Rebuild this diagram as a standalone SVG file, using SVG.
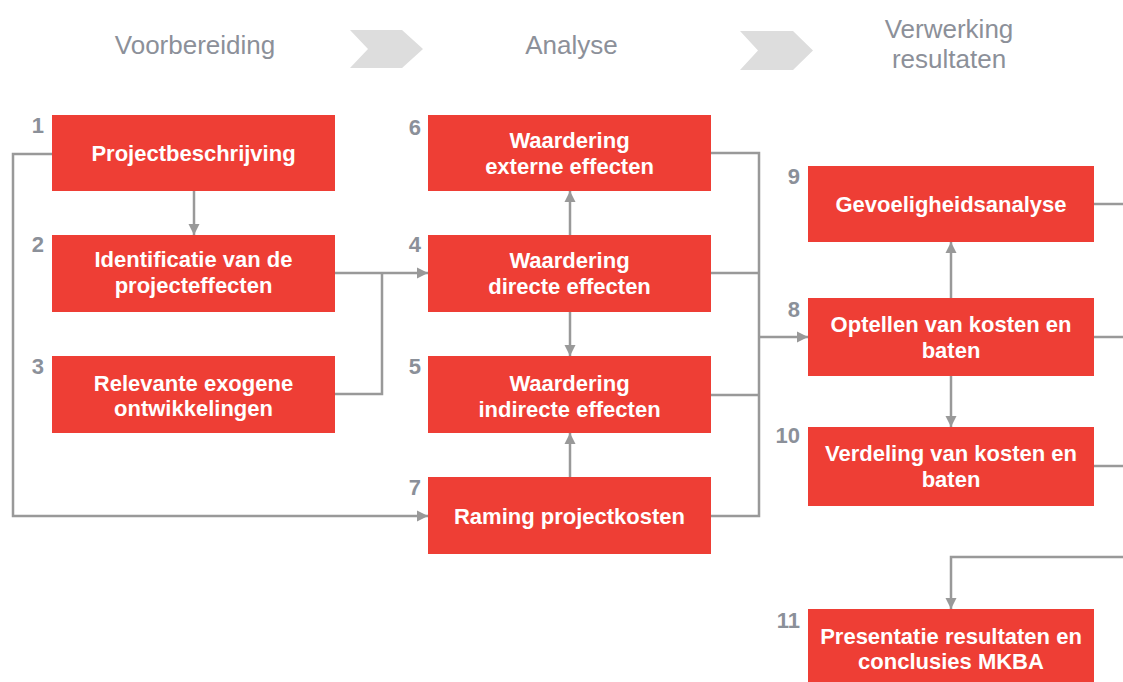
<svg xmlns="http://www.w3.org/2000/svg" width="1123" height="682" viewBox="0 0 1123 682">
<defs>
<style>
.box{fill:#EE3E35;}
.bt{font-family:"Liberation Sans",Arial,sans-serif;font-weight:bold;font-size:22px;fill:#ffffff;text-anchor:middle;}
.num{font-family:"Liberation Sans",Arial,sans-serif;font-weight:bold;font-size:22px;fill:#8b9099;text-anchor:end;}
.hd{font-family:"Liberation Sans",Arial,sans-serif;font-size:26px;fill:#8c9099;text-anchor:middle;}
.chev{fill:#dddddd;}
.con{fill:none;stroke:#999999;stroke-width:2.5;}
.arr{marker-end:url(#ah);}
</style>
<marker id="ah" viewBox="0 0 10 10" refX="10" refY="5" markerWidth="11" markerHeight="12" markerUnits="userSpaceOnUse" orient="auto">
<path d="M0,0 L10,5 L0,10 z" fill="#999999"/>
</marker>
</defs>
<rect width="1123" height="682" fill="#ffffff"/>
<g id="header">
<text class="hd" x="195" y="54">Voorbereiding</text>
<polygon class="chev" points="350,30 402,30 423,49 402,68 350,68 368,49"/>
<text class="hd" x="571.5" y="54">Analyse</text>
<polygon class="chev" points="740,31 793,31 813,50.5 793,70 740,70 758,50.5"/>
<text class="hd" x="949" y="38">Verwerking</text>
<text class="hd" x="949" y="68">resultaten</text>
</g>
<g id="connectors">
<path class="con arr" d="M194,191 V235"/>
<path class="con arr" d="M52,154 H13 V516 H428"/>
<path class="con arr" d="M335,273 H428"/>
<path class="con" d="M335,394 H382 V273"/>
<path class="con arr" d="M570,235 V191"/>
<path class="con arr" d="M570,312 V356"/>
<path class="con arr" d="M570,477 V433"/>
<path class="con" d="M711,153 H759 V516 H711"/>
<path class="con" d="M711,273 H759"/>
<path class="con" d="M711,395 H759"/>
<path class="con arr" d="M759,337 H808"/>
<path class="con arr" d="M951,298 V242"/>
<path class="con arr" d="M951,376 V427"/>
<path class="con" d="M1094,204 H1123"/>
<path class="con" d="M1094,337 H1123"/>
<path class="con" d="M1094,466 H1123"/>
<path class="con arr" d="M1123,557 H951 V609"/>
</g>
<g id="n1">
<rect class="box" x="52" y="115" width="283" height="76"/>
<text class="num" x="44" y="133">1</text>
<text class="bt" x="193.5" y="161">Projectbeschrijving</text>
</g>
<g id="n2">
<rect class="box" x="52" y="235" width="283" height="77"/>
<text class="num" x="44" y="252">2</text>
<text class="bt" x="193.5" y="267">Identificatie van de</text>
<text class="bt" x="193.5" y="293">projecteffecten</text>
</g>
<g id="n3">
<rect class="box" x="52" y="356" width="283" height="77"/>
<text class="num" x="44" y="374">3</text>
<text class="bt" x="193.5" y="391">Relevante exogene</text>
<text class="bt" x="193.5" y="416">ontwikkelingen</text>
</g>
<g id="n6">
<rect class="box" x="428" y="115" width="283" height="76"/>
<text class="num" x="421" y="135">6</text>
<text class="bt" x="569.5" y="148">Waardering</text>
<text class="bt" x="569.5" y="174">externe effecten</text>
</g>
<g id="n4">
<rect class="box" x="428" y="235" width="283" height="77"/>
<text class="num" x="421" y="252">4</text>
<text class="bt" x="569.5" y="268">Waardering</text>
<text class="bt" x="569.5" y="294">directe effecten</text>
</g>
<g id="n5">
<rect class="box" x="428" y="356" width="283" height="77"/>
<text class="num" x="421" y="374">5</text>
<text class="bt" x="569.5" y="391">Waardering</text>
<text class="bt" x="569.5" y="417">indirecte effecten</text>
</g>
<g id="n7">
<rect class="box" x="428" y="477" width="283" height="77"/>
<text class="num" x="421" y="495">7</text>
<text class="bt" x="569.5" y="524">Raming projectkosten</text>
</g>
<g id="n9">
<rect class="box" x="808" y="166" width="286" height="76"/>
<text class="num" x="800" y="184">9</text>
<text class="bt" x="951" y="212">Gevoeligheidsanalyse</text>
</g>
<g id="n8">
<rect class="box" x="808" y="298" width="286" height="78"/>
<text class="num" x="800" y="317">8</text>
<text class="bt" x="951" y="332">Optellen van kosten en</text>
<text class="bt" x="951" y="358">baten</text>
</g>
<g id="n10">
<rect class="box" x="808" y="427" width="286" height="79"/>
<text class="num" x="800" y="443">10</text>
<text class="bt" x="951" y="461">Verdeling van kosten en</text>
<text class="bt" x="951" y="487">baten</text>
</g>
<g id="n11">
<rect class="box" x="808" y="609" width="286" height="80"/>
<text class="num" x="800" y="628">11</text>
<text class="bt" x="951" y="644">Presentatie resultaten en</text>
<text class="bt" x="951" y="669">conclusies MKBA</text>
</g>
</svg>
